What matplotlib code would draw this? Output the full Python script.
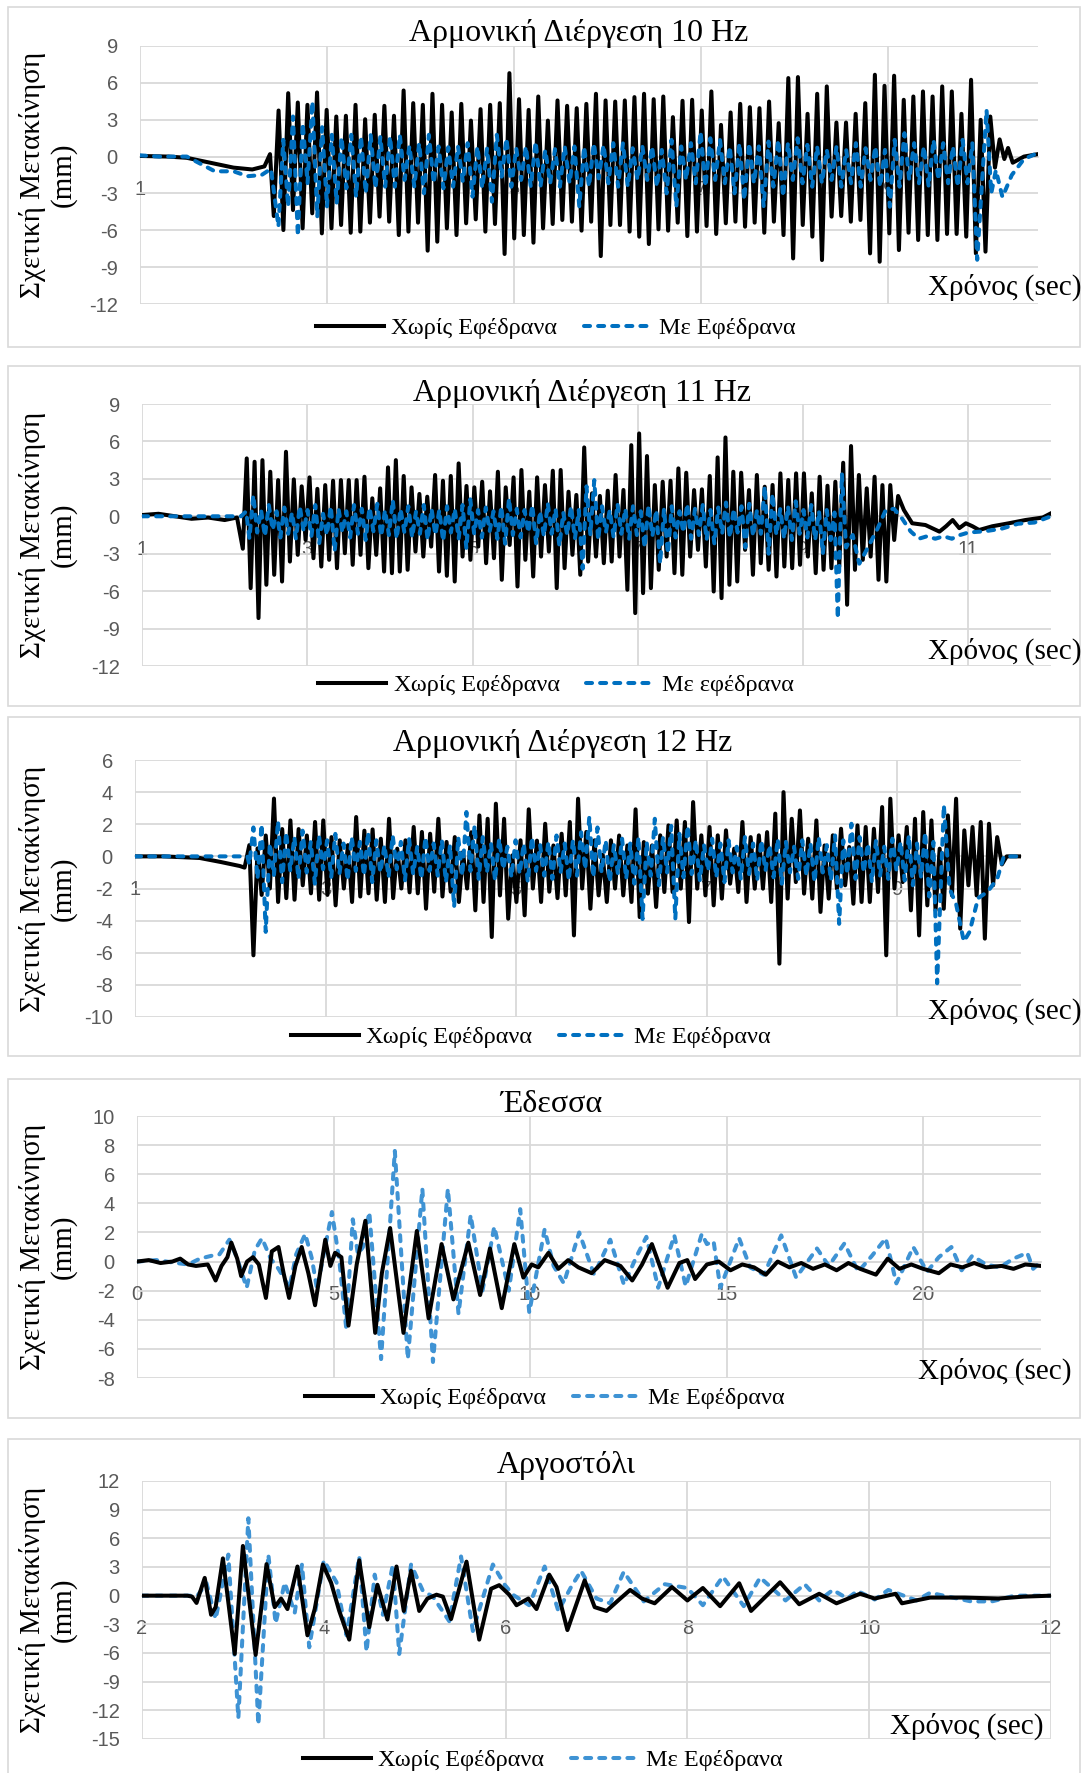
import numpy as np
import matplotlib.pyplot as plt
from matplotlib.patches import Rectangle

plt.rcParams["axes.unicode_minus"] = False

# ---------------- data ----------------
# panel 1 : harmonic 10 Hz
p1_black_pre_t = [1.0, 1.3, 1.5, 1.75, 2.0, 2.2, 2.33, 2.39]
p1_black_pre_v = [0.05, 0.0, -0.1, -0.5, -0.9, -1.05, -0.8, 0.2]
p1_black_troughs = [-4.84, -5.98, -4.35, -5.84, -4.62, -6.25, -5.84, -5.57, -6.20, -6.11, -5.38, -4.89, -5.30,
                    -6.39, -6.11, -5.38, -7.66, -6.93, -5.84, -6.39, -5.43, -5.11, -6.11, -5.49, -7.93, -6.66,
                    -6.39, -7.01, -5.84, -5.49, -5.16, -5.30, -6.03, -5.30, -8.10, -5.57, -5.57, -6.11, -6.52,
                    -7.12, -5.92, -6.03, -5.38, -6.47, -6.11, -5.65, -6.30, -5.43, -5.30, -5.71, -5.38, -6.20,
                    -5.30, -6.39, -8.29, -5.57, -6.52, -8.42, -4.89, -4.84, -5.30, -5.16, -7.88, -8.56, -6.25,
                    -7.61, -6.20, -6.79, -6.39, -6.79, -6.30, -6.30, -6.52, -7.88, -7.74]
p1_black_peaks = [3.75, 5.16, 4.40, 4.21, 5.22, 3.80, 3.26, 3.32, 4.21, 3.04, 3.40, 4.13, 3.32, 5.38, 4.35,
                  4.21, 5.11, 4.21, 3.59, 4.29, 2.93, 3.86, 4.21, 4.35, 6.79, 4.67, 3.80, 4.89, 2.93, 4.57,
                  4.13, 3.94, 4.29, 5.11, 4.57, 4.48, 4.57, 4.84, 5.11, 4.67, 4.89, 3.21, 4.54, 4.62, 3.75,
                  5.30, 2.58, 3.59, 4.29, 4.02, 3.94, 4.48, 2.72, 6.39, 6.47, 3.48, 5.11, 5.71, 2.77, 2.77,
                  3.48, 4.35, 6.66, 5.76, 6.58, 4.62, 4.89, 5.30, 4.89, 5.71, 5.30, 3.48, 6.25, 2.99, 3.26]
p1_black_span = [2.43, 10.09]
p1_black_post_t = [10.14, 10.19, 10.24, 10.28, 10.33, 10.45, 10.6]
p1_black_post_v = [-0.9, 1.4, -0.2, 0.7, -0.5, 0.0, 0.2]

p1_blue_pre_t = [1.0, 1.2, 1.5, 1.65, 1.8, 2.0, 2.15, 2.3, 2.4]
p1_blue_pre_v = [0.1, 0.0, 0.0, -0.6, -1.2, -1.2, -1.6, -1.5, -1.0]
p1_blue_troughs = [-5.71, -4.08, -6.47, -2.17, -4.89, -4.08, -3.80, -2.58, -3.26, -2.99, -2.58, -2.45, -2.45,
                   -1.90, -2.45, -2.99, -2.17, -2.58, -2.45, -2.04, -3.26, -2.58, -3.67, -1.63, -2.45, -1.90,
                   -2.45, -2.45, -2.17, -2.45, -2.17, -4.08, -2.45, -1.77, -2.17, -2.45, -2.45, -1.90, -1.90,
                   -2.45, -2.99, -4.08, -1.90, -2.17, -2.45, -1.90, -2.17, -2.99, -3.53, -2.17, -4.08, -2.45,
                   -3.26, -1.90, -2.17, -2.45, -2.17, -1.90, -2.45, -2.17, -2.45, -1.90, -2.45, -4.08, -2.45,
                   -1.90, -2.17, -2.45, -1.90, -2.17, -2.45, -2.17, -8.4]
p1_blue_peaks = [1.36, 3.26, 2.72, 4.48, 2.39, 1.77, 1.58, 1.77, 1.63, 1.77, 1.63, 1.63, 1.77, 0.87, 1.09,
                 1.77, 0.82, 0.76, 0.82, 1.09, 0.82, 0.68, 1.77, 1.49, 0.68, 0.82, 1.22, 0.54, 0.60, 0.82,
                 0.82, 0.82, 1.09, 0.95, 1.09, 1.09, 0.68, 0.82, 0.82, 0.54, 1.36, 0.82, 1.09, 2.04, 1.49,
                 1.36, 0.82, 1.09, 1.09, 0.82, 1.22, 1.36, 1.09, 1.49, 0.95, 0.82, 0.54, 0.82, 0.54, 1.09,
                 0.68, 0.82, 0.54, 1.36, 1.90, 1.09, 0.82, 1.36, 1.09, 0.82, 1.36, 1.09]
p1_blue_span = [2.48, 9.95]
p1_blue_post_t = [10.05, 10.1, 10.15, 10.22, 10.32, 10.45, 10.6]
p1_blue_post_v = [3.8, -3.0, -1.1, -3.3, -1.5, -0.2, 0.3]

# panel 2 : harmonic 11 Hz
p2_black_pre_t = [1.0, 1.2, 1.4, 1.6, 1.8, 2.0, 2.15]
p2_black_pre_v = [0.1, 0.2, 0.0, -0.2, -0.1, -0.3, -0.1]
p2_black_troughs = [-2.6, -5.76, -8.16, -5.49, -4.69, -5.23, -3.63, -3.09, -1.9, -3.36, -4.03, -3.49, -4.16,
                    -2.96, -3.89, -3.09, -4.16, -3.09, -4.43, -4.56, -4.43, -4.29, -2.83, -3.23, -2.43, -4.43,
                    -4.77, -5.23, -3.23, -3.49, -2.43, -3.76, -3.36, -5.09, -2.3, -5.63, -3.49, -4.83, -3.23,
                    -2.83, -5.76, -4.16, -3.09, -4.69, -3.63, -3.23, -3.76, -3.63, -3.23, -5.89, -7.76, -6.16,
                    -5.76, -4.29, -3.23, -4.56, -4.69, -3.23, -2.69, -4.03, -6.03, -6.56, -5.49, -5.23, -2.69,
                    -4.69, -3.76, -4.29, -4.83, -4.03, -4.16, -3.89, -3.23, -4.56, -4.29, -4.16, -4.0, -7.09,
                    -4.29, -3.49, -3.23, -5.09, -5.23, -1.9]
p2_black_peaks = [4.64, 4.37, 4.5, 3.57, 2.9, 5.17, 2.96, 2.4, 3.12, 2.2, 2.5, 2.85, 2.9, 2.9, 2.9, 3.17, 1.44,
                  2.24, 3.92, 4.5, 3.23, 2.32, 1.79, 1.57, 3.31, 2.85, 3.23, 4.24, 2.43, 2.32, 2.77, 2.0, 3.57,
                  2.32, 3.12, 3.71, 1.97, 3.12, 2.5, 3.65, 3.71, 1.97, 1.71, 5.52, 1.84, 1.63, 2.05, 3.31, 2.11,
                  5.7, 6.64, 4.83, 2.5, 2.77, 2.85, 3.84, 3.49, 2.1, 2.16, 3.23, 4.72, 6.32, 3.57, 3.49, 2.1,
                  3.31, 2.37, 2.51, 3.44, 2.91, 3.44, 3.44, 1.84, 3.17, 2.45, 2.77, 4.29, 5.63, 3.31, 2.24,
                  3.17, 2.5, 2.5, 1.63]
p2_black_span = [2.22, 10.15]
p2_black_post_t = [10.22, 10.32, 10.48, 10.65, 10.73, 10.81, 10.89, 10.97, 11.05, 11.13, 11.29, 11.49,
                   11.69, 11.9, 12.0]
p2_black_post_v = [0.5, -0.56, -0.7, -1.23, -0.8, -0.3, -0.95, -0.56, -0.8, -1.1, -0.8, -0.56, -0.3, -0.1,
                   0.24]

p2_blue_pre_t = [1.0, 1.5, 2.0, 2.2, 2.26]
p2_blue_pre_v = [0.0, 0.0, 0.0, 0.0, 0.4]
p2_blue_troughs = [-1.8, -1.3, -1.6, -1.1, -1.7, -1.4, -1.8, -1.2, -1.6, -2.2, -1.5, -2.8, -1.3, -1.7, -1.4,
                   -1.9, -1.2, -1.6, -1.5, -1.8, -1.3, -1.7, -1.4, -1.9, -1.5, -2.0, -1.3, -1.8, -2.6, -1.4,
                   -1.7, -1.2, -1.8, -2.2, -1.5, -1.7, -1.3, -2.2, -1.6, -1.4, -2.4, -1.5, -1.8, -4.2, -1.5,
                   -1.9, -1.3, -1.7, -1.4, -1.8, -1.5, -2.5, -1.6, -3.8, -3.0, -1.7, -1.3, -1.8, -1.5, -1.9,
                   -2.2, -1.4, -1.7, -1.3, -2.5, -1.6, -1.4, -3.0, -1.5, -1.8, -1.9, -1.4, -1.7, -1.9, -3.0,
                   -1.9]
p2_blue_peaks = [1.7, 0.5, 0.9, 0.4, 0.7, 0.3, 0.8, 0.5, 0.9, 0.2, 0.8, 0.6, 0.4, 0.9, 0.6, 0.7, 1.0, 0.5,
                 1.3, 0.6, 0.8, 0.4, 0.9, 0.6, 0.5, 0.8, 0.6, 0.9, 1.36, 0.5, 0.7, 0.4, 0.8, 1.44, 0.6, 0.5,
                 0.9, 0.4, 1.04, 0.6, 0.3, 0.8, 0.5, 2.4, 2.9, 0.8, 0.5, 1.0, 0.6, 0.8, 0.4, 0.9, 0.5, 0.6,
                 0.8, 0.4, 1.0, 0.6, 0.9, 0.5, 0.7, 1.1, 0.6, 0.8, 1.0, 0.5, 2.4, 1.8, 0.6, 0.8, 1.2, 0.5,
                 0.9, 0.4, 0.5, 0.3]
p2_blue_span = [2.3, 9.38]
p2_blue_post_t = [9.42, 9.47, 9.52, 9.6, 9.68, 9.8, 9.9, 10.0, 10.1, 10.2, 10.3, 10.4, 10.5, 10.6, 10.7,
                  10.8, 10.9, 11.0, 11.2, 11.4, 11.6, 11.8, 12.0]
p2_blue_post_v = [-8.2, 3.4, -2.5, -1.5, -3.8, -2.3, -1.0, 0.5, 0.6, -0.2, -1.2, -1.8, -1.6, -1.8, -1.6,
                  -1.8, -1.5, -1.3, -1.2, -1.0, -0.6, -0.5, 0.0]

# panel 3 : harmonic 12 Hz
p3_black_pre_t = [1.0, 1.3, 1.68, 1.9, 2.1, 2.15]
p3_black_pre_v = [0.0, 0.0, -0.1, -0.35, -0.6, -0.7]
p3_black_peaks = [0.7, 0.5, 1.3, 3.6, 1.7, 2.24, 1.7, 1.3, 2.14, 2.24, 1.2, 1.0, 0.7, 2.45, 1.6, 1.68, 1.1,
                  2.34, 0.48, 1.0, 1.83, 1.52, 1.41, 2.34, 0.9, 1.2, 0.27, 1.5, 2.55, 2.34, 3.28, 2.34, 0.06,
                  1.0, 2.93, 0.98, 2.03, 0.68, 1.41, 2.14, 3.59, 1.52, 1.0, 0.1, 1.0, 1.3, 0.68, 2.93, 0.89,
                  0.68, 1.31, 1.93, 2.24, 2.14, 3.38, 1.31, 1.83, 1.31, 1.62, 0.48, 2.14, 1.2, 1.31, 1.51,
                  2.66, 4.0, 2.34, 2.86, 1.1, 2.24, 0.68, 1.31, 1.72, 0.58, 1.93, 1.83, 1.72, 3.07, 3.59,
                  1.31, 1.83, 2.34, 2.76, 2.24, 0.48, 2.55, 3.59, 1.62, 1.83, 2.14, 2.03, 1.2]
p3_black_troughs = [-6.16, -2.4, -2.0, -2.84, -2.6, -2.7, -1.8, -2.3, -2.7, -2.4, -3.05, -2.0, -2.84, -2.5,
                    -2.3, -2.7, -2.84, -2.6, -2.0, -2.24, -2.3, -3.26, -2.2, -2.5, -2.2, -2.84, -2.0, -3.36,
                    -2.84, -5.02, -2.43, -3.88, -2.84, -3.67, -2.0, -2.84, -2.2, -2.6, -2.43, -4.92, -2.0,
                    -3.26, -2.43, -2.84, -2.0, -2.43, -2.84, -3.78, -2.32, -3.15, -2.22, -2.22, -2.01, -4.09,
                    -2.01, -2.43, -3.05, -2.63, -1.7, -2.22, -2.84, -2.01, -2.01, -2.84, -6.68, -2.63, -1.6,
                    -2.32, -2.63, -3.46, -2.63, -2.01, -1.8, -2.95, -2.84, -2.84, -2.22, -6.16, -2.0, -1.6,
                    -3.36, -4.92, -3.05, -3.36, -3.26, -2.43, -4.5, -1.8, -2.43, -5.12, -1.8]
p3_black_span = [2.20, 10.05]
p3_black_post_t = [10.1, 10.15, 10.3]
p3_black_post_v = [-0.5, 0.0, 0.0]

p3_blue_pre_t = [1.0, 1.6, 2.18]
p3_blue_pre_v = [0.0, 0.0, 0.0]
p3_blue_troughs = [-0.5, -1.4, -4.7, -1.2, -1.6, -0.9, -1.4, -1.0, -1.7, -0.8, -1.3, -1.1, -1.5, -0.9, -1.2,
                   -1.6, -1.0, -1.3, -0.8, -1.5, -1.1, -1.4, -0.9, -1.2, -1.6, -3.15, -1.2, -0.9, -1.4, -1.0,
                   -1.5, -0.8, -1.3, -1.1, -1.6, -0.9, -1.2, -1.4, -1.0, -1.5, -1.2, -0.8, -1.3, -1.0, -1.6,
                   -1.1, -1.4, -1.7, -3.9, -1.2, -1.8, -1.0, -3.9, -1.3, -1.1, -1.5, -0.9, -1.3, -1.6, -1.0,
                   -1.4, -1.1, -1.5, -0.9, -1.3, -1.7, -1.0, -1.4, -1.2, -1.6, -1.0, -1.5, -4.2, -1.1, -1.4,
                   -1.0, -1.6, -1.2, -1.4, -0.9, -1.5, -1.8, -1.3, -2.5]
p3_blue_peaks = [1.8, 2.0, 0.8, 2.2, 1.5, 1.2, 1.6, 0.9, 1.3, 1.0, 1.4, 0.8, 1.2, 0.9, 1.5, 1.0, 0.7, 1.3,
                 0.9, 1.1, 0.6, 1.2, 0.8, 1.0, 0.7, 1.2, 2.76, 1.93, 1.2, 0.8, 1.1, 0.6, 1.0, 0.8, 1.2, 0.7,
                 0.9, 1.3, 0.8, 1.0, 1.5, 2.45, 1.8, 1.0, 0.7, 1.1, 0.8, 1.2, 0.9, 2.34, 1.2, 1.9, 1.4, 1.9,
                 1.0, 0.7, 1.1, 0.8, 1.0, 0.6, 1.2, 0.8, 1.0, 0.7, 1.1, 0.9, 0.6, 1.0, 0.8, 1.2, 0.7, 1.3,
                 1.0, 2.03, 1.2, 0.8, 1.0, 0.6, 1.1, 0.9, 1.3, 0.8, 1.5, 0.9]
p3_blue_span = [2.2, 9.38]
p3_blue_post_t = [9.42, 9.49, 9.55, 9.62, 9.7, 9.76, 9.85, 9.95, 10.05, 10.12, 10.3]
p3_blue_post_v = [-7.9, 3.2, -2.0, -3.0, -5.3, -4.7, -2.6, -2.2, -1.4, 0.0, 0.0]

# panel 4 : Edessa record
p4_black_t = [0.0, 0.3, 0.6, 0.9, 1.1, 1.3, 1.5, 1.8, 2.0, 2.15, 2.3, 2.4, 2.55, 2.65, 2.8, 2.95, 3.1, 3.28,
              3.43, 3.6, 3.73, 3.87, 4.03, 4.19, 4.36, 4.53, 4.79, 4.92, 5.04, 5.2, 5.38, 5.59, 5.81, 6.06,
              6.23, 6.44, 6.78, 7.12, 7.42, 7.75, 8.05, 8.43, 8.73, 8.98, 9.28, 9.6, 9.83, 10.04, 10.21,
              10.47, 10.72, 10.97, 11.23, 11.57, 11.9, 12.3, 12.6, 12.85, 13.1, 13.5, 13.8, 14.0, 14.2,
              14.5, 14.8, 15.1, 15.4, 15.7, 16.0, 16.3, 16.6, 16.9, 17.2, 17.5, 17.8, 18.1, 18.4, 18.8,
              19.1, 19.4, 19.7, 20.0, 20.4, 20.7, 21.0, 21.3, 21.6, 22.0, 22.3, 22.6, 23.0]
p4_black_v = [0.0, 0.1, -0.1, 0.0, 0.2, -0.2, -0.3, -0.2, -1.3, -0.3, 0.3, 1.3, 0.2, -1.0, 0.0, 0.3, -0.2,
              -2.5, 0.7, 1.0, -0.8, -2.5, -0.3, 1.0, -0.8, -3.0, 1.5, -0.3, 0.6, 0.3, -4.4, -0.2, 2.8, -4.9,
              -0.8, 2.3, -4.9, 2.1, -3.9, 1.2, -2.6, 1.3, -2.3, 0.9, -3.2, 1.2, -1.1, -0.2, -0.4, 0.6, -0.5,
              0.1, -0.4, -0.8, 0.1, -0.3, -1.3, -0.2, 1.2, -1.8, -0.1, 0.1, -1.2, -0.2, 0.0, -0.6, -0.2,
              -0.4, -0.9, 0.0, -0.4, -0.1, -0.5, -0.2, -0.6, -0.1, -0.5, -0.9, 0.2, -0.5, -0.2, -0.5, -0.8,
              -0.2, -0.4, -0.1, -0.4, -0.3, -0.5, -0.2, -0.3]
p4_blue_t = [0.0, 0.5, 1.0, 1.3, 1.6, 1.9, 2.1, 2.35, 2.55, 2.79, 3.0, 3.18, 3.4, 3.6, 3.88, 4.05, 4.28, 4.45,
             4.58, 4.75, 4.96, 5.15, 5.32, 5.49, 5.62, 5.75, 5.91, 6.21, 6.56, 6.89, 7.26, 7.53, 7.91, 8.18,
             8.49, 8.79, 9.09, 9.46, 9.75, 9.98, 10.37, 10.6, 10.86, 11.25, 11.63, 12.04, 12.39, 12.7, 12.96,
             13.26, 13.67, 13.96, 14.37, 14.5, 14.67, 14.84, 15.32, 15.6, 15.95, 16.39, 16.77, 17.3, 17.6,
             18.0, 18.35, 18.7, 19.05, 19.32, 19.75, 20.1, 20.4, 20.72, 20.98, 21.25, 21.6, 21.95, 22.3,
             22.65, 22.8, 23.0]
p4_blue_v = [0.0, 0.1, -0.1, -0.2, 0.2, 0.4, 0.5, 1.5, 0.2, -1.8, 0.8, 1.6, 0.2, -0.5, -1.8, 0.5, 1.9, 0.2,
             -1.9, 0.5, 3.4, 0.0, -4.5, 2.9, 0.5, 1.0, 3.4, -6.7, 7.6, -6.7, 5.0, -6.9, 5.0, -3.6, 3.2, -2.0,
             2.4, -2.0, 3.6, -3.5, 2.2, -0.3, -1.5, 2.0, -0.9, 1.5, -1.6, 0.3, 1.7, -1.8, 1.8, -1.7, 1.9,
             1.2, 1.4, -1.8, 1.6, -0.4, -0.9, 1.8, -1.1, 0.9, -0.3, 1.25, -0.7, 0.4, 1.6, -1.5, 1.0, -0.7,
             0.3, 1.0, -0.6, 0.4, -0.2, -0.4, 0.2, 0.6, -0.5, 0.0]

# panel 5 : Argostoli record
p5_black_t = [2.0, 2.5, 2.55, 2.6, 2.69, 2.76, 2.81, 2.89, 3.02, 3.11, 3.25, 3.37, 3.46, 3.53, 3.6, 3.71, 3.82,
              3.9, 3.99, 4.08, 4.17, 4.28, 4.39, 4.5, 4.59, 4.7, 4.8, 4.88, 4.96, 5.05, 5.14, 5.24, 5.31,
              5.4, 5.57, 5.71, 5.84, 5.93, 6.04, 6.12, 6.25, 6.34, 6.48, 6.56, 6.68, 6.87, 6.98, 7.11,
              7.25, 7.37, 7.5, 7.64, 7.83, 8.0, 8.17, 8.36, 8.57, 8.7, 9.02, 9.23, 9.45, 9.64, 9.9, 10.06,
              10.29, 10.36, 10.67, 11.05, 11.42, 11.7, 12.0]
p5_black_v = [0.0, 0.0, -0.1, -0.76, 1.86, -2.0, -1.2, 3.9, -6.1, 5.2, -6.2, 3.3, -1.2, -0.3, -1.4, 3.05,
              -4.15, -1.4, 3.26, 1.36, -1.6, -4.6, 3.7, -3.3, 1.14, -2.5, 3.05, -1.6, 2.6, -1.6, -0.3, 0.1,
              -0.1, -2.45, 3.56, -4.6, 0.72, 1.1, 0.1, -1.0, -0.3, -1.4, 2.2, 0.9, -3.6, 1.6, -1.2, -1.6,
              -0.4, 0.6, -0.3, -0.8, 0.9, -0.5, 0.8, -1.1, 1.3, -1.6, 1.4, -0.9, 0.2, -0.8, 0.2, -0.3, 0.2,
              -0.8, -0.2, -0.2, -0.3, -0.1, 0.0]
p5_blue_t = [2.0, 2.55, 2.61, 2.71, 2.81, 2.95, 3.06, 3.17, 3.28, 3.39, 3.47, 3.57, 3.68, 3.76, 3.84, 4.0,
             4.14, 4.25, 4.39, 4.47, 4.56, 4.65, 4.76, 4.83, 4.96, 5.09, 5.2, 5.38, 5.51, 5.64, 5.86, 5.99,
             6.08, 6.26, 6.43, 6.58, 6.72, 6.83, 7.0, 7.15, 7.3, 7.52, 7.75, 8.0, 8.17, 8.39, 8.62, 8.8,
             9.08, 9.29, 9.45, 9.6, 9.76, 9.87, 10.06, 10.21, 10.52, 10.67, 11.12, 11.35, 11.6, 12.0]
p5_blue_v = [0.0, 0.0, 0.0, 1.3, -2.45, 4.3, -12.8, 8.1, -13.5, 4.3, -2.9, 1.36, -1.8, 3.26, -5.4, 3.7, 1.4,
             -4.15, 4.1, -5.85, 2.2, -2.0, 3.26, -6.1, 3.26, 0.5, -0.1, -2.67, 4.1, -3.7, 3.26, 1.14, 0.1,
             -1.0, 3.05, -1.6, 0.9, 2.6, -0.3, -0.8, 2.5, -0.6, 1.2, 0.8, -1.0, 2.0, -1.1, 1.9, -0.5, 1.2,
             -0.5, 0.6, -0.3, 0.5, -0.4, 0.6, -0.5, 0.3, -0.6, -0.6, 0.0, 0.0]

titles = ["Αρμονική Διέργεση 10 Hz", "Αρμονική Διέργεση 11 Hz", "Αρμονική Διέργεση 12 Hz", "Έδεσσα",
          "Αργοστόλι"]
black_label = "Χωρίς Εφέδρανα"
blue_labels = ["Με Εφέδρανα", "Με εφέδρανα", "Με Εφέδρανα", "Με Εφέδρανα", "Με Εφέδρανα"]


def zigzag(span, first, second):
    vals = []
    for i in range(len(first)):
        vals.append(first[i])
        if i < len(second):
            vals.append(second[i])
    return list(np.linspace(span[0], span[1], len(vals))), vals


def series(pre_t, pre_v, span, first, second, post_t, post_v):
    ot, ov = zigzag(span, first, second)
    return pre_t + ot + post_t, pre_v + ov + post_v


black = [
    series(p1_black_pre_t, p1_black_pre_v, p1_black_span, p1_black_troughs, p1_black_peaks,
           p1_black_post_t, p1_black_post_v),
    series(p2_black_pre_t, p2_black_pre_v, p2_black_span, p2_black_troughs, p2_black_peaks,
           p2_black_post_t, p2_black_post_v),
    series(p3_black_pre_t, p3_black_pre_v, p3_black_span, p3_black_peaks, p3_black_troughs,
           p3_black_post_t, p3_black_post_v),
    (p4_black_t, p4_black_v),
    (p5_black_t, p5_black_v),
]
blue = [
    series(p1_blue_pre_t, p1_blue_pre_v, p1_blue_span, p1_blue_troughs, p1_blue_peaks,
           p1_blue_post_t, p1_blue_post_v),
    series(p2_blue_pre_t, p2_blue_pre_v, p2_blue_span, p2_blue_troughs, p2_blue_peaks,
           p2_blue_post_t, p2_blue_post_v),
    series(p3_blue_pre_t, p3_blue_pre_v, p3_blue_span, p3_blue_troughs, p3_blue_peaks,
           p3_blue_post_t, p3_blue_post_v),
    (p4_blue_t, p4_blue_v),
    (p5_blue_t, p5_blue_v),
]

# ---------------- layout (pixels of the 1083x1773 picture) ----------------
W, H = 1083, 1773
panel_box = [(8, 7, 1080, 347), (8, 366, 1080, 706), (8, 717, 1080, 1056), (8, 1079, 1080, 1418),
             (8, 1439, 1080, 1790)]
plot_box = [(140, 46, 1038, 304), (142, 404, 1051, 666), (135, 760, 1021, 1017), (137, 1116, 1041, 1378),
            (142, 1481, 1051, 1739)]
xlims = [(1, 10.6), (1, 12), (1, 10.3), (0, 23), (2, 12)]
xticks = [[1, 3, 5, 7, 9], [1, 3, 5, 7, 9, 11], [1, 3, 5, 7, 9], [0, 5, 10, 15, 20], [2, 4, 6, 8, 10, 12]]
ylims = [(-12, 9), (-12, 9), (-10, 6), (-8, 10), (-15, 12)]
ysteps = [3, 3, 2, 2, 3]
title_pos = [(579, 33), (582, 393), (563, 743), (551, 1105), (566, 1466)]
xlab_pos = [(1081, 287), (1081, 651), (1081, 1011), (1071, 1371), (1044, 1726)]
legend_pos = [(556, 328), (556, 685), (531, 1037), (545, 1398), (543, 1760)]
blue_colors = ["#0070C0", "#0070C0", "#0070C0", "#3F93D4", "#3F93D4"]
black_on_top = [False, False, False, True, True]

serif = "Liberation Serif"
sans = "Liberation Sans"

fig = plt.figure(figsize=(W / 100, H / 100), dpi=100)


def fx(x):
    return x / W


def fy(y):
    return 1 - y / H


for i in range(5):
    l, t, r, b = panel_box[i]
    fig.add_artist(Rectangle((fx(l), fy(b)), fx(r - l), (b - t) / H, transform=fig.transFigure,
                             facecolor="white", edgecolor="#D9D9D9", linewidth=1.2, zorder=0))

    l, t, r, b = plot_box[i]
    ax = fig.add_axes([fx(l), fy(b), fx(r - l), (b - t) / H])
    ax.set_facecolor("none")
    ax.set_xlim(*xlims[i])
    ax.set_ylim(*ylims[i])
    ax.set_xticks(xticks[i])
    ax.set_yticks(np.arange(ylims[i][0], ylims[i][1] + 0.1, ysteps[i]))
    ax.grid(True, color="#D9D9D9", linewidth=1.3)
    ax.set_axisbelow(True)
    for s in ["top", "right", "left"]:
        ax.spines[s].set_visible(False)
    ax.spines["bottom"].set_position(("data", 0))
    ax.spines["bottom"].set_color("#D9D9D9")
    ax.spines["bottom"].set_linewidth(1.3)
    ax.tick_params(length=0, labelsize=14.5, labelcolor="#595959")
    ax.tick_params(axis="x", pad=17)
    ax.tick_params(axis="y", pad=16)
    for lab in ax.get_xticklabels() + ax.get_yticklabels():
        lab.set_fontfamily(sans)

    bt, bv = black[i]
    ut, uv = blue[i]
    zb, zu = (4, 3) if black_on_top[i] else (3, 4)
    ax.plot(bt, bv, color="black", linewidth=2.9, solid_joinstyle="round", zorder=zb, label=black_label)
    ax.plot(ut, uv, color=blue_colors[i], linewidth=2.9, linestyle=(0, (1.5, 2.0)),
            dash_capstyle="round", zorder=zu, label=blue_labels[i])

    fig.text(fx(title_pos[i][0]), fy(title_pos[i][1]), titles[i], ha="center", va="center",
             fontsize=23, family=serif)
    fig.text(fx(xlab_pos[i][0]), fy(xlab_pos[i][1]), "Χρόνος (sec)", ha="right", va="center",
             fontsize=21, family=serif)
    fig.text(fx(48), fy((t + b) / 2), "Σχετική Μετακίνηση\n(mm)", rotation=90, ha="center",
             va="center", multialignment="center", linespacing=1.2, fontsize=21, family=serif)

    leg = ax.legend(loc="center", bbox_to_anchor=(fx(legend_pos[i][0]), fy(legend_pos[i][1])),
                    bbox_transform=fig.transFigure, ncol=2, frameon=False, handlelength=2.8,
                    handletextpad=0.3, columnspacing=1.1, prop={"family": serif, "size": 17.5})

fig.savefig("out.png", dpi=100)
